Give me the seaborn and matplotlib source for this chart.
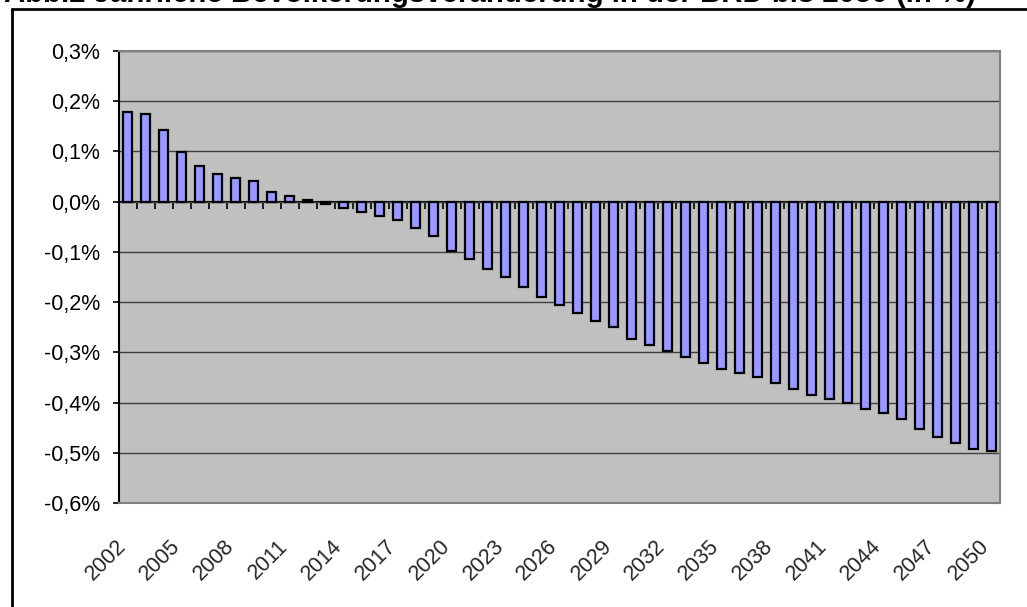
import numpy as np
import pandas as pd
import matplotlib
matplotlib.use("Agg")
import matplotlib.pyplot as plt
from matplotlib.lines import Line2D
from matplotlib.transforms import ScaledTranslation
import seaborn as sns

# Jährliche Bevölkerungsveränderung in Prozent, 2002-2050
years = list(range(2002, 2051))
change_pct = [
    0.178, 0.175, 0.143, 0.099, 0.071, 0.056, 0.048, 0.041, 0.020, 0.012,
    0.004, -0.004, -0.012, -0.020, -0.028, -0.036, -0.052, -0.068, -0.099, -0.115,
    -0.135, -0.150, -0.170, -0.190, -0.206, -0.222, -0.238, -0.250, -0.274, -0.286,
    -0.298, -0.310, -0.322, -0.333, -0.341, -0.349, -0.361, -0.373, -0.385, -0.393,
    -0.401, -0.413, -0.421, -0.433, -0.453, -0.468, -0.481, -0.493, -0.497,
]
y_ticks = [0.3, 0.2, 0.1, 0.0, -0.1, -0.2, -0.3, -0.4, -0.5, -0.6]
title = "Abb.2 Jährliche Bevölkerungsveränderung in der BRD bis 2050 (in %)"

df = pd.DataFrame({"Jahr": [str(y) for y in years], "Veraenderung": change_pct})

sns.set_theme(style="white")
plt.rcParams["font.family"] = ["Liberation Sans", "DejaVu Sans"]

fig = plt.figure(figsize=(10.27, 6.07), dpi=100)
fig.patch.set_facecolor("white")
ax = fig.add_axes([119 / 1027, 1 - 503 / 607, (1000 - 119) / 1027, (503 - 51) / 607])
ax.set_facecolor("#C0C0C0")

sns.barplot(data=df, x="Jahr", y="Veraenderung", color="#9999FF", saturation=1,
            edgecolor="black", linewidth=1.6, width=0.5, ax=ax)

ymin, ymax = min(y_ticks), max(y_ticks)
n = len(years)
ax.set_ylim(ymin, ymax)
ax.set_xlim(-0.5, n - 0.5)
ax.set_xlabel("")
ax.set_ylabel("")

# y axis: percent labels with decimal comma
ax.set_yticks(y_ticks)
ax.set_yticklabels([f"{v:.1f}%".replace(".", ",") for v in y_ticks], fontsize=15.5)
ax.yaxis.grid(True, color="#404040", linewidth=1.0)
ax.set_axisbelow(True)
ax.tick_params(axis="y", direction="out", length=4.5, width=1.2, color="black",
               pad=9, labelcolor="black", left=True)

# x axis: every third year, rotated
idx = list(range(0, n, 3))
ax.set_xticks(idx)
ax.set_xticklabels([str(years[i]) for i in idx], fontsize=15.5, rotation=45,
                   ha="right", va="center", rotation_mode="anchor")
ax.tick_params(axis="x", length=0, pad=0, bottom=True)
offset = ScaledTranslation(-5 / 100, -40 / 100, fig.dpi_scale_trans)
for lab in ax.get_xticklabels():
    lab.set_transform(lab.get_transform() + offset)

for side in ["top", "right", "bottom"]:
    ax.spines[side].set_color("#808080")
    ax.spines[side].set_linewidth(1.5)
ax.spines["left"].set_color("black")
ax.spines["left"].set_linewidth(1.5)

# category axis on the zero line, ticks between categories
zero_loc = (0 - ymin) / (ymax - ymin)
sec = ax.secondary_xaxis(zero_loc)
sec.set_xticks(np.arange(n + 1) - 0.5)
sec.set_xticklabels([])
sec.tick_params(axis="x", direction="in", length=5, width=1.2, color="black")
for sp in sec.spines.values():
    sp.set_color("black")
    sp.set_linewidth(1.5)

# frame around the chart and title above it
fig.add_artist(Line2D([12 / 1027, 12 / 1027], [0, 1 - 9 / 607], color="black",
                      linewidth=2, transform=fig.transFigure))
fig.add_artist(Line2D([12 / 1027, 1], [1 - 9 / 607, 1 - 9 / 607], color="black",
                      linewidth=2, transform=fig.transFigure))
fig.text(4 / 1027, 1 - 2 / 607, title, ha="left", va="baseline",
         fontsize=21.2, fontweight="bold", color="black")

fig.savefig("out.png", dpi=100)
